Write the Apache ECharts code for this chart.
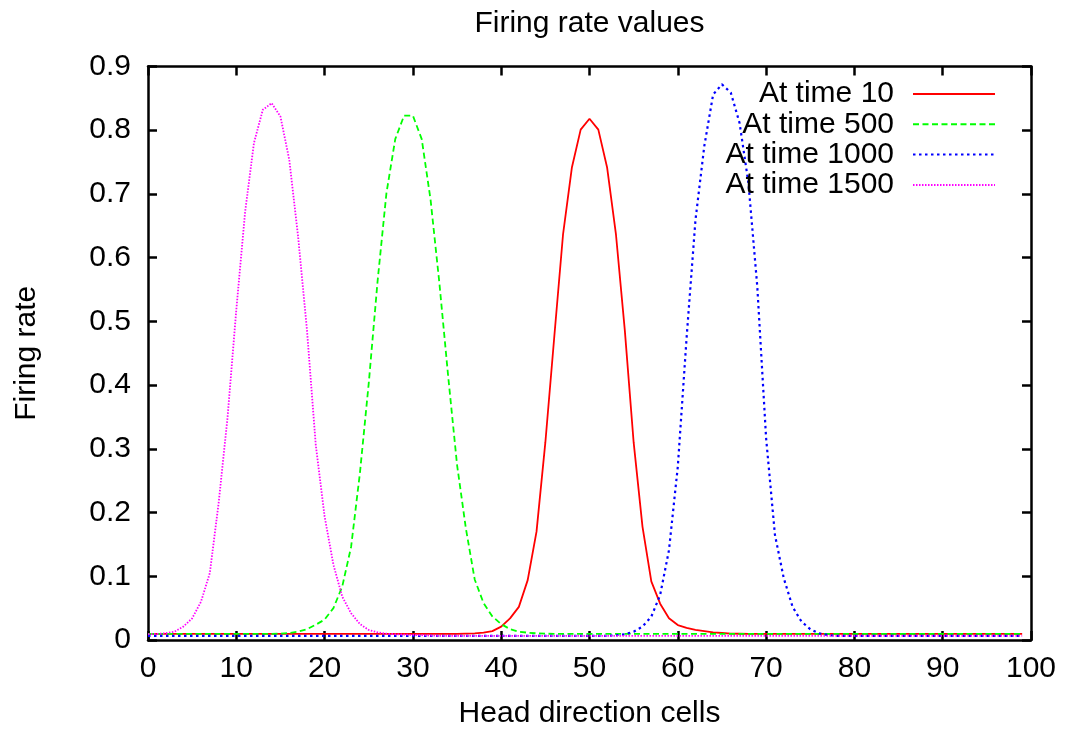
<!DOCTYPE html>
<html>
<head>
<meta charset="utf-8">
<script src="https://cdn.jsdelivr.net/npm/echarts@6/dist/echarts.min.js"></script>
<style>
  html, body { margin: 0; padding: 0; background: #fff; }
  #chart { width: 1067px; height: 729px; }
</style>
</head>
<body>
<div id="chart"></div>
<script>
// firing rate of each head direction cell (index = cell)
const seriesNames = ['At time 10', 'At time 500', 'At time 1000', 'At time 1500']

const rateT10 = [
  0.0095, 0.0095, 0.0095, 0.0095, 0.0095, 0.0095, 0.0095, 0.0095, 0.0095, 0.0095,
  0.0095, 0.0095, 0.0095, 0.0095, 0.0095, 0.0095, 0.0095, 0.0095, 0.0095, 0.0095,
  0.0095, 0.0095, 0.0095, 0.0095, 0.0095, 0.0095, 0.0095, 0.0095, 0.0095, 0.0095,
  0.0095, 0.0095, 0.0095, 0.0095, 0.0095, 0.0095, 0.010, 0.0105, 0.0115, 0.014,
  0.021, 0.034, 0.052, 0.094, 0.170, 0.310, 0.474, 0.636, 0.741, 0.801,
  0.818, 0.801, 0.741, 0.636, 0.486, 0.310, 0.178, 0.092, 0.057, 0.034,
  0.0235, 0.019, 0.016, 0.014, 0.012, 0.011, 0.010, 0.0098, 0.0095, 0.0095,
  0.0095, 0.0095, 0.0095, 0.0095, 0.0095, 0.0095, 0.0095, 0.0095, 0.0095, 0.0095,
  0.0095, 0.0095, 0.0095, 0.0095, 0.0095, 0.0095, 0.0095, 0.0095, 0.0095, 0.0095,
  0.0095, 0.0095, 0.0095, 0.0095, 0.0095, 0.0095, 0.0095, 0.0095, 0.0095, 0.0095,
]

const rateT500 = [
  0.0095, 0.0095, 0.0095, 0.0095, 0.0095, 0.0095, 0.0095, 0.0095, 0.0095, 0.0095,
  0.0095, 0.0095, 0.0095, 0.0095, 0.0095, 0.010, 0.011, 0.013, 0.017, 0.024,
  0.032, 0.050, 0.084, 0.146, 0.262, 0.403, 0.563, 0.701, 0.786, 0.823,
  0.823, 0.786, 0.691, 0.560, 0.413, 0.275, 0.175, 0.095, 0.058, 0.037,
  0.025, 0.017, 0.013, 0.0115, 0.0105, 0.010, 0.0095, 0.0095, 0.0095, 0.0095,
  0.0095, 0.0095, 0.0095, 0.0095, 0.0095, 0.0095, 0.0095, 0.0095, 0.0095, 0.0095,
  0.0095, 0.0095, 0.0095, 0.0095, 0.0095, 0.0095, 0.0095, 0.0095, 0.0095, 0.0095,
  0.0095, 0.0095, 0.0095, 0.0095, 0.0095, 0.0095, 0.0095, 0.0095, 0.0095, 0.0095,
  0.0095, 0.0095, 0.0095, 0.0095, 0.0095, 0.0095, 0.0095, 0.0095, 0.0095, 0.0095,
  0.0095, 0.0095, 0.0095, 0.0095, 0.0095, 0.0095, 0.0095, 0.0095, 0.0095, 0.0095,
]

const rateT1000 = [
  0.0065, 0.0065, 0.0065, 0.0065, 0.0065, 0.0065, 0.0065, 0.0065, 0.0065, 0.0065,
  0.0065, 0.0065, 0.0065, 0.0065, 0.0065, 0.0065, 0.0065, 0.0065, 0.0065, 0.0065,
  0.0065, 0.0065, 0.0065, 0.0065, 0.0065, 0.0065, 0.0065, 0.0065, 0.0065, 0.0065,
  0.0065, 0.0065, 0.0065, 0.0065, 0.0065, 0.0065, 0.0065, 0.0065, 0.0065, 0.0065,
  0.0065, 0.0065, 0.0065, 0.0065, 0.0065, 0.0065, 0.0065, 0.0065, 0.0065, 0.0065,
  0.0065, 0.0065, 0.0065, 0.0074, 0.009, 0.013, 0.021, 0.0366, 0.0706, 0.141,
  0.272, 0.475, 0.659, 0.775, 0.856, 0.872, 0.859, 0.811, 0.717, 0.555,
  0.317, 0.165, 0.097, 0.052, 0.029, 0.017, 0.0105, 0.0078, 0.0065, 0.0065,
  0.0065, 0.0065, 0.0065, 0.0065, 0.0065, 0.0065, 0.0065, 0.0065, 0.0065, 0.0065,
  0.0065, 0.0065, 0.0065, 0.0065, 0.0065, 0.0065, 0.0065, 0.0065, 0.0065, 0.0065,
]

const rateT1500 = [
  0.009, 0.0095, 0.0105, 0.013, 0.021, 0.034, 0.060, 0.105, 0.215, 0.348,
  0.518, 0.672, 0.780, 0.832, 0.8425, 0.8215, 0.7535, 0.633, 0.487, 0.306,
  0.194, 0.118, 0.068, 0.042, 0.025, 0.0157, 0.012, 0.0099, 0.009, 0.0085,
  0.008, 0.0075, 0.007, 0.0065, 0.0065, 0.0065, 0.0065, 0.0065, 0.0065, 0.0065,
  0.0065, 0.0065, 0.0065, 0.0065, 0.0065, 0.0065, 0.0065, 0.0065, 0.0065, 0.0065,
  0.0065, 0.0065, 0.0065, 0.0065, 0.0065, 0.0065, 0.0065, 0.0065, 0.0065, 0.0065,
  0.0065, 0.0065, 0.0065, 0.0065, 0.0065, 0.0065, 0.0065, 0.0065, 0.0065, 0.0065,
  0.0065, 0.0065, 0.0065, 0.0065, 0.0065, 0.0065, 0.0065, 0.0065, 0.0065, 0.0065,
  0.0065, 0.0065, 0.0065, 0.0065, 0.0065, 0.0065, 0.0065, 0.0065, 0.0065, 0.0065,
  0.0065, 0.0065, 0.0065, 0.0065, 0.0065, 0.0065, 0.0065, 0.0065, 0.0065, 0.0065,
]

const xTickLabels = ['0', '10', '20', '30', '40', '50', '60', '70', '80', '90', '100']
const yTickLabels = ['0', '0.1', '0.2', '0.3', '0.4', '0.5', '0.6', '0.7', '0.8', '0.9']

const FONT = '"Liberation Sans", Arial, sans-serif'
const FS = 30
const lineColors = ['#ff0000', '#00ff00', '#0000ff', '#ff00ff']
const lineTypes = [
  { type: 'solid', width: 1.8 },
  { type: [6, 3.5], width: 1.8 },
  { type: [2.5, 3.5], width: 2.2 },
  { type: [1.5, 1.5], width: 1.8 },
]
const allRates = [rateT10, rateT500, rateT1000, rateT1500]

const chart = echarts.init(document.getElementById('chart'), null, { renderer: 'canvas' })

const axisBase = {
  type: 'value',
  axisLine: { show: true, onZero: false, lineStyle: { color: '#000', width: 2.5 } },
  axisTick: { show: true, inside: true, length: 9, lineStyle: { color: '#000', width: 2.5 } },
  splitLine: { show: false },
  nameTextStyle: { fontFamily: FONT, fontSize: FS, color: '#000' },
}

const xMin = +xTickLabels[0], xMax = +xTickLabels[xTickLabels.length - 1]
const yMin = +yTickLabels[0], yMax = +yTickLabels[yTickLabels.length - 1]

chart.setOption({
  animation: false,
  backgroundColor: '#fff',
  grid: { left: 148, right: 36, top: 66.5, bottom: 89, outerBoundsMode: 'none' },
  legend: seriesNames.map((name, i) => ({
    data: [name],
    right: 66,
    top: 74 + i * 30.3,
    align: 'right',
    itemWidth: 82,
    itemHeight: 14,
    selectedMode: false,
    itemStyle: { opacity: 0 },
    textStyle: { fontFamily: FONT, fontSize: FS, color: '#000', padding: [0, 14, 0, 0] },
  })),
  xAxis: [
    {
      ...axisBase,
      position: 'bottom',
      min: xMin, max: xMax, interval: 10,
      name: 'Head direction cells',
      nameLocation: 'middle',
      nameGap: 59,
      axisLabel: {
        margin: 14, fontFamily: FONT, fontSize: FS, color: '#000',
        formatter: v => xTickLabels[Math.round((v - xMin) / 10)],
      },
    },
    {
      ...axisBase,
      position: 'top',
      min: xMin, max: xMax, interval: 10,
      name: 'Firing rate values',
      nameLocation: 'middle',
      nameGap: 28,
      axisLabel: { show: false },
    },
  ],
  yAxis: [
    {
      ...axisBase,
      position: 'left',
      min: yMin, max: yMax, interval: 0.1,
      name: 'Firing rate',
      nameLocation: 'middle',
      nameRotate: 90,
      nameGap: 106,
      axisLabel: {
        margin: 17, fontFamily: FONT, fontSize: FS, color: '#000',
        formatter: v => yTickLabels[Math.round((v - yMin) / 0.1)],
      },
    },
    {
      ...axisBase,
      position: 'right',
      min: yMin, max: yMax, interval: 0.1,
      axisLabel: { show: false },
    },
  ],
  series: allRates.map((rates, i) => ({
    name: seriesNames[i],
    type: 'line',
    xAxisIndex: 0,
    yAxisIndex: 0,
    symbol: 'none',
    silent: true,
    data: rates.map((v, cell) => [cell, v]),
    itemStyle: { color: lineColors[i] },
    lineStyle: { color: lineColors[i], ...lineTypes[i] },
  })),
})
</script>
</body>
</html>
